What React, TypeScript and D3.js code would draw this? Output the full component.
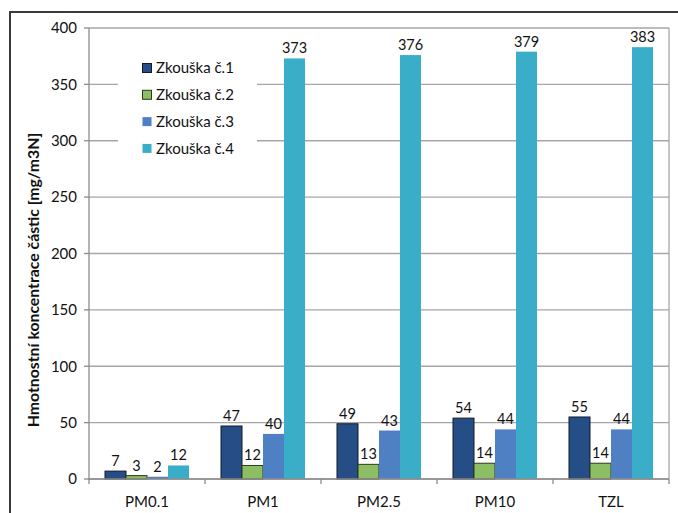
import React from "react";
import * as d3 from "d3";

const categories = ["PM0.1", "PM1", "PM2.5", "PM10", "TZL"];
const seriesNames = ["Zkouška č.1", "Zkouška č.2", "Zkouška č.3", "Zkouška č.4"];
const zkouska1 = [7, 47, 49, 54, 55];
const zkouska2 = [3, 12, 13, 14, 14];
const zkouska3 = [2, 40, 43, 44, 44];
const zkouska4 = [12, 373, 376, 379, 383];
const yTicks = [0, 50, 100, 150, 200, 250, 300, 350, 400];

const seriesValues = [zkouska1, zkouska2, zkouska3, zkouska4];
const fills = ["#264E86", "#8EBE63", "#4F80C3", "#3AAEC8"];
const strokes = ["#111a2a", "#2a3a1a", "none", "none"];

const W = 678;
const H = 513;
const FONT = "Lato, 'Open Sans', sans-serif";

export default function App() {
  const left = 89;
  const right = 669;
  const top = 28;
  const bottom = 479;

  const x = d3.scaleBand<string>().domain(categories).range([left, right]);
  const inner = d3
    .scaleBand<number>()
    .domain(d3.range(seriesNames.length))
    .range([16, x.bandwidth() - 16]);
  const y = d3.scaleLinear().domain([0, 400]).range([bottom, top]);

  const gridColor = "#a6a6a6";

  // legend box geometry
  const legX = 118;
  const legY = 52;
  const legW = 139;
  const legH = 112;

  return (
    <svg
      width={W}
      height={H}
      style={{ position: "absolute", left: 0, top: 0, background: "#fff" }}
      fontFamily={FONT}
    >
      {/* outer chart frame */}
      <path d={`M10,${H + 5} L10,12 L${W + 5},12`} fill="none" stroke="#3a3a3a" strokeWidth={2} />

      {/* horizontal gridlines */}
      {yTicks.map((t) => (
        <line key={t} x1={left} x2={right} y1={y(t)} y2={y(t)} stroke={gridColor} strokeWidth={1.3} />
      ))}
      {/* right border of plot area */}
      <line x1={right} x2={right} y1={top} y2={bottom} stroke={gridColor} strokeWidth={1.3} />

      {/* legend background */}
      <rect x={legX} y={legY} width={legW} height={legH} fill="#fff" />

      {/* bars */}
      {categories.map((c, ci) =>
        seriesValues.map((vals, si) => {
          const v = vals[ci];
          const bx = (x(c) as number) + (inner(si) as number);
          const bw = inner.bandwidth();
          return (
            <g key={`${c}-${si}`}>
              <rect
                x={bx}
                y={y(v)}
                width={bw}
                height={y(0) - y(v)}
                fill={fills[si]}
                stroke={strokes[si]}
                strokeWidth={strokes[si] === "none" ? 0 : 1}
              />
              <text
                x={bx + bw / 2}
                y={y(v) - 5}
                textAnchor="middle"
                fontSize={14.5}
                fill="#111"
              >
                {v}
              </text>
            </g>
          );
        })
      )}

      {/* y axis */}
      <line x1={left} x2={left} y1={top} y2={bottom + 1} stroke="#8c8c8c" strokeWidth={1.3} />
      {yTicks.map((t) => (
        <g key={`yt-${t}`}>
          <line x1={left - 5} x2={left} y1={y(t)} y2={y(t)} stroke="#8c8c8c" strokeWidth={1.3} />
          <text x={left - 12} y={y(t)} dy="0.35em" textAnchor="end" fontSize={15} fill="#111">
            {t}
          </text>
        </g>
      ))}

      {/* x axis */}
      <line x1={left} x2={right} y1={bottom} y2={bottom} stroke="#8c8c8c" strokeWidth={1.3} />
      {[...categories.map((c) => x(c) as number), right].map((px, i) => (
        <line key={`xt-${i}`} x1={px} x2={px} y1={bottom} y2={bottom + 5} stroke="#8c8c8c" strokeWidth={1.3} />
      ))}
      {categories.map((c) => (
        <text
          key={`xl-${c}`}
          x={(x(c) as number) + x.bandwidth() / 2}
          y={502}
          dy="0.35em"
          textAnchor="middle"
          fontSize={15}
          fill="#111"
        >
          {c}
        </text>
      ))}

      {/* y axis title */}
      <text
        transform={`translate(33,280) rotate(-90)`}
        textAnchor="middle"
        fontSize={15.8}
        fontWeight="bold"
        fill="#111"
        dy="0.35em"
      >
        Hmotnostní koncentrace částic [mg/m3N]
      </text>

      {/* legend */}
      {seriesNames.map((name, si) => {
        const cy = 68 + si * 26.8;
        return (
          <g key={name}>
            <rect
              x={142.5}
              y={cy - 4.5}
              width={9}
              height={9}
              fill={fills[si]}
              stroke={strokes[si]}
              strokeWidth={strokes[si] === "none" ? 0 : 1}
            />
            <text x={156} y={cy} dy="0.35em" fontSize={15} fill="#111">
              {name}
            </text>
          </g>
        );
      })}
    </svg>
  );
}
